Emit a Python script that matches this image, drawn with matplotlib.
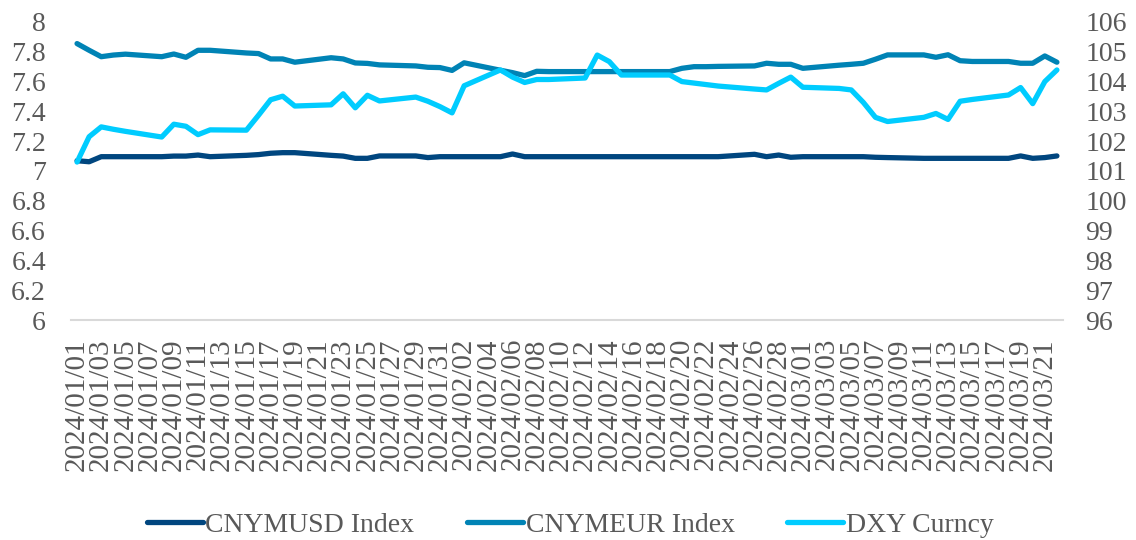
import pandas as pd
import matplotlib
matplotlib.use('Agg')
import matplotlib.pyplot as plt
from matplotlib.ticker import FuncFormatter

plt.rcParams['font.family'] = ['Liberation Serif', 'DejaVu Serif']

# trading days 2024/01/01 - 2024/03/22
dates = pd.bdate_range('2024-01-01', '2024-03-22')

cnymusd = [7.069, 7.062, 7.096, 7.096, 7.096,
           7.096, 7.100, 7.100, 7.107, 7.096,
           7.105, 7.110, 7.119, 7.123, 7.123,
           7.105, 7.100, 7.085, 7.085, 7.101,
           7.101, 7.090, 7.096, 7.096, 7.096,
           7.096, 7.114, 7.096, 7.096, 7.096,
           7.096, 7.096, 7.096, 7.096, 7.096,
           7.096, 7.096, 7.096, 7.096, 7.096,
           7.112, 7.096, 7.107, 7.092, 7.096,
           7.096, 7.096, 7.096, 7.092, 7.090,
           7.085, 7.085, 7.085, 7.085, 7.085,
           7.085, 7.101, 7.085, 7.090, 7.101]

cnymeur = [7.855, 7.810, 7.767, 7.778, 7.784,
           7.767, 7.785, 7.763, 7.810, 7.810,
           7.792, 7.788, 7.752, 7.752, 7.730,
           7.760, 7.752, 7.725, 7.722, 7.712,
           7.705, 7.696, 7.694, 7.675, 7.726,
           7.676, 7.660, 7.640, 7.669, 7.667,
           7.667, 7.667, 7.667, 7.667, 7.667,
           7.667, 7.689, 7.700, 7.700, 7.702,
           7.705, 7.723, 7.716, 7.716, 7.689,
           7.710, 7.716, 7.723, 7.750, 7.779,
           7.779, 7.763, 7.780, 7.740, 7.735,
           7.735, 7.723, 7.723, 7.772, 7.730]

dxy = [101.30, 102.15, 102.48, 102.40, 102.33,
       102.14, 102.57, 102.50, 102.22, 102.38,
       102.37, 102.87, 103.39, 103.51, 103.18,
       103.22, 103.59, 103.12, 103.54, 103.35,
       103.48, 103.34, 103.16, 102.95, 103.86,
       104.39, 104.15, 103.97, 104.07, 104.07,
       104.12, 104.89, 104.67, 104.22, 104.22,
       104.22, 104.00, 103.95, 103.90, 103.85,
       103.75, 103.72, 103.94, 104.15, 103.81,
       103.77, 103.72, 103.30, 102.80, 102.66,
       102.80, 102.93, 102.73, 103.34, 103.40,
       103.55, 103.80, 103.26, 104.00, 104.39]

tick_dates = pd.date_range('2024-01-01', '2024-03-21', freq='2D')

c_usd = '#00467f'
c_eur = '#0083b5'
c_dxy = '#00ccff'
txt = '#595959'

fig = plt.figure(figsize=(11.36, 5.4), dpi=100)
ax = fig.add_axes([0.0625, 0.4074, 0.8732, 0.5519])
ax2 = ax.twinx()

ax.plot(dates, cnymusd, color=c_usd, lw=3.8, label='CNYMUSD Index', solid_capstyle='round')
ax.plot(dates, cnymeur, color=c_eur, lw=3.8, label='CNYMEUR Index', solid_capstyle='round')
ax2.plot(dates, dxy, color=c_dxy, lw=3.8, label='DXY Curncy', solid_capstyle='round')

ax.set_xlim(pd.Timestamp('2024-01-01') - pd.Timedelta(hours=12),
            pd.Timestamp('2024-03-22') + pd.Timedelta(hours=12))
ax.set_ylim(6, 8)
ax2.set_ylim(96, 106)
ax.set_yticks([6 + 0.2 * i for i in range(11)])
ax2.set_yticks(range(96, 107))
ax.yaxis.set_major_formatter(FuncFormatter(lambda v, p: f'{round(v, 1):g}'))

ax.set_xticks(tick_dates)
ax.set_xticklabels([d.strftime('%Y/%m/%d') for d in tick_dates], rotation=90)

for a in (ax, ax2):
    for s in a.spines.values():
        s.set_visible(False)
ax.spines['bottom'].set_visible(True)
ax.spines['bottom'].set_color('#d9d9d9')
ax.spines['bottom'].set_linewidth(1.5)

ax.tick_params(axis='y', length=0, labelsize=20, labelcolor=txt, pad=18)
ax.tick_params(axis='x', length=0, labelsize=21, labelcolor=txt, pad=13)
ax2.tick_params(axis='y', length=0, labelsize=20, labelcolor=txt, pad=16)

h1, l1 = ax.get_legend_handles_labels()
h2, l2 = ax2.get_legend_handles_labels()
fig.legend(h1 + h2, l1 + l2, loc='center', bbox_to_anchor=(0.502, 0.028), ncol=3,
           frameon=False, fontsize=20, labelcolor=txt, handlelength=2.0,
           handletextpad=0.1, columnspacing=1.9)

fig.savefig('out.png', dpi=100)
